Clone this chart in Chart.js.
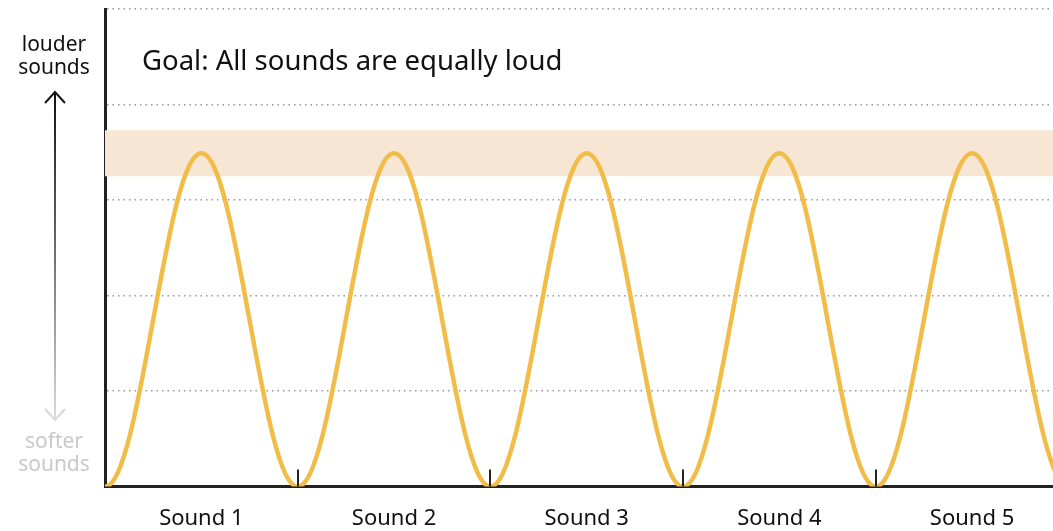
<!DOCTYPE html>
<html>
<head>
<meta charset="utf-8">
<script src="https://cdn.jsdelivr.net/npm/chart.js@4"></script>
<style>
  html, body { margin: 0; padding: 0; background: #fff; }
  #wrap { width: 1053px; height: 531px; }
</style>
</head>
<body>
<div id="wrap"><canvas id="chart"></canvas></div>
<script>
// sound wave: troughs and peaks (a peak on each side outside the axis range)
const waveX = [-0.5, 0, 0.5, 1, 1.5, 2, 2.5, 3, 3.5, 4, 4.5, 5, 5.5];
const waveY = [3.49, 0, 3.49, 0, 3.49, 0, 3.49, 0, 3.49, 0, 3.49, 0, 3.49];

// target loudness band
const bandX = [0, 5];
const bandLow = [3.25, 3.25];
const bandHigh = [3.73, 3.73];

// x labels sit between the sound borders
const soundLabels = ['Sound 1', 'Sound 2', 'Sound 3', 'Sound 4', 'Sound 5'];
const labelPos = [0.5, 1.5, 2.5, 3.5, 4.5];
const borderTicks = [1, 2, 3, 4];

const FONT = '"Noto Sans", Lato, sans-serif';

// draws the little tick marks at the sound borders, the title and the left scale
const extras = {
  id: 'extras',
  afterDraw(chart) {
    const ctx = chart.ctx;
    const xs = chart.scales.x;
    const area = chart.chartArea;
    ctx.save();
    ctx.strokeStyle = '#222';
    ctx.lineWidth = 2;
    borderTicks.forEach(v => {
      const px = Math.round(xs.getPixelForValue(v));
      ctx.beginPath();
      ctx.moveTo(px, area.bottom);
      ctx.lineTo(px, area.bottom - 17);
      ctx.stroke();
    });

    ctx.fillStyle = '#111';
    ctx.font = '27.5px ' + FONT;
    ctx.textBaseline = 'middle';
    ctx.textAlign = 'left';
    ctx.fillText('Goal: All sounds are equally loud', 142, 62);

    // left legend: louder / softer
    ctx.textAlign = 'center';
    ctx.font = '21px ' + FONT;
    ctx.fillText('louder', 54, 45);
    ctx.fillText('sounds', 54, 68);
    ctx.fillStyle = '#c9c9c9';
    ctx.fillText('softer', 54, 442);
    ctx.fillText('sounds', 54, 465);

    const top = 92, bot = 420, ax = 55;
    const grad = ctx.createLinearGradient(0, top, 0, bot);
    grad.addColorStop(0, '#111');
    grad.addColorStop(0.45, '#666');
    grad.addColorStop(1, '#dcdcdc');
    ctx.strokeStyle = grad;
    ctx.lineWidth = 2;
    ctx.beginPath();
    ctx.moveTo(ax, top);
    ctx.lineTo(ax, bot);
    ctx.moveTo(ax - 10, top + 11);
    ctx.lineTo(ax, top);
    ctx.lineTo(ax + 10, top + 11);
    ctx.moveTo(ax - 10, bot - 11);
    ctx.lineTo(ax, bot);
    ctx.lineTo(ax + 10, bot - 11);
    ctx.stroke();
    ctx.restore();
  }
};

new Chart(document.getElementById('chart'), {
  type: 'line',
  data: {
    datasets: [
      {
        label: 'sound',
        data: waveX.map((x, i) => ({ x: x, y: waveY[i] })),
        borderColor: '#F1BD48',
        borderWidth: 4.5,
        pointRadius: 0,
        tension: 0.37,
        fill: false
      },
      {
        label: 'bandLow',
        data: bandX.map((x, i) => ({ x: x, y: bandLow[i] })),
        borderWidth: 0,
        pointRadius: 0,
        fill: false
      },
      {
        label: 'bandHigh',
        data: bandX.map((x, i) => ({ x: x, y: bandHigh[i] })),
        borderWidth: 0,
        pointRadius: 0,
        backgroundColor: '#F7E6D3',
        fill: 1
      }
    ]
  },
  plugins: [extras],
  options: {
    responsive: true,
    maintainAspectRatio: false,
    animation: false,
    layout: { padding: { left: 105, top: 9, right: 0, bottom: -20 } },
    plugins: {
      legend: { display: false },
      tooltip: { enabled: false }
    },
    scales: {
      x: {
        type: 'linear',
        min: 0,
        max: 4.92,
        afterBuildTicks: s => { s.ticks = labelPos.map(v => ({ value: v })); },
        grid: { display: false, drawTicks: false },
        border: { color: '#222', width: 3 },
        ticks: {
          padding: 19,
          color: '#111',
          font: { family: FONT, size: 22 },
          maxRotation: 0,
          autoSkip: false,
          callback: (v, i) => soundLabels[i]
        }
      },
      y: {
        min: 0,
        max: 5,
        ticks: { display: false, stepSize: 1 },
        grid: { color: '#9a9a9a', lineWidth: 1.5, drawTicks: false },
        border: { color: '#222', width: 3, dash: [1.5, 4] }
      }
    }
  }
});
</script>
</body>
</html>
